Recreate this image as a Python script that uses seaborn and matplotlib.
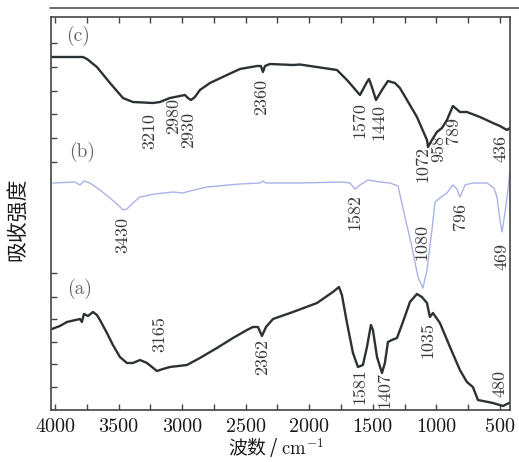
import numpy as np
import pandas as pd
import seaborn as sns
import matplotlib.pyplot as plt
from matplotlib.lines import Line2D

# ---------------- data ----------------
wn_c = [4031, 3780, 3748, 3670, 3567, 3465, 3387, 3229, 3174, 3096, 3017, 2978, 2954, 2930,
        2899, 2860, 2781, 2647, 2545, 2411, 2380, 2364, 2348, 2309, 2128, 2073, 1782, 1703,
        1601, 1546, 1530, 1507, 1475, 1428, 1381, 1326, 1287, 1231, 1153, 1074, 1066, 1035,
        996, 956, 917, 870, 815, 760, 657, 555, 500, 445, 421]
ab_c = [353, 353, 351, 343, 327, 312, 308, 307, 308, 312, 314, 315, 312, 310,
        313, 320, 327, 335, 341, 344, 344, 338, 344, 346, 345, 345.5, 340, 330,
        315, 328, 331, 323, 310, 320, 329, 327, 322, 310, 293, 270, 263, 270,
        278, 282, 290, 304, 298, 298, 293, 287, 284, 280, 282]

wn_b = [4016, 3843, 3803, 3772, 3725, 3646, 3567, 3504, 3465, 3434, 3387, 3331, 3214, 3072,
        2993, 2938, 2805, 2545, 2388, 2364, 2340, 2073, 1735, 1680, 1640, 1601, 1538, 1444,
        1365, 1302, 1247, 1192, 1145, 1106, 1074, 1035, 1011, 972, 917, 870, 838, 815, 791,
        775, 713, 602, 547, 523, 500, 484, 461, 437, 421]
ab_b = [227, 228, 225, 229, 227, 220, 212, 205, 200, 201, 207, 213, 216, 218,
        217, 219, 223, 226, 227, 229, 227, 227, 228, 227, 221, 225, 230, 228,
        227, 224, 193, 163, 133, 122, 140, 180, 208, 212, 217, 225, 221, 213, 220,
        225, 227, 227, 222, 213, 190, 178, 197, 220, 240]

wn_a = [4024, 3961, 3906, 3803, 3788, 3772, 3740, 3701, 3670, 3646, 3591, 3544, 3489, 3434,
        3387, 3331, 3276, 3198, 3151, 3096, 2962, 2860, 2726, 2600, 2490, 2443, 2403, 2372,
        2340, 2285, 2128, 1939, 1814, 1766, 1743, 1703, 1656, 1617, 1578, 1546, 1515, 1499,
        1467, 1428, 1405, 1381, 1350, 1310, 1263, 1208, 1153, 1114, 1074, 1051, 1027, 972,
        893, 815, 760, 713, 673, 555, 476, 429]
ab_a = [81, 84, 88, 91, 88, 96, 94, 98, 95, 90, 77, 65, 53, 47,
        47, 50, 47, 39, 41, 43, 45, 52, 62, 72, 80, 83, 83, 74,
        83, 91, 98, 107, 118, 123, 115, 87, 57, 43, 45, 63, 85, 80,
        53, 37, 47, 68, 70, 72, 88, 108, 116, 113, 107, 93, 97, 87,
        63, 40, 28, 23, 10, 7, 4, 7]

# peak labels: (wavenumber, height, text)
pk_c_wn = [3253, 3066, 2950, 2372, 1601, 1452, 1106, 982, 866, 492]
pk_c_y = [279, 294, 280, 313, 290, 288, 246, 262, 279, 262]
pk_c_tx = ["3210", "2980", "2930", "2360", "1570", "1440", "1072", "958", "789", "436"]

pk_b_wn = [3465, 1640, 1114, 815, 484]
pk_b_y = [175, 198, 168, 194, 153]
pk_b_tx = ["3430", "1582", "1080", "796", "469"]

pk_a_wn = [3174, 2364, 1601, 1405, 1066, 500]
pk_a_y = [76, 53, 24, 20, 70, 27]
pk_a_tx = ["3165", "2362", "1581", "1407", "1035", "480"]

panel_wn = [3819, 3788, 3803]
panel_y = [374, 258, 121]
panel_tx = ["(c)", "(b)", "(a)"]

xticks = [4000, 3500, 3000, 2500, 2000, 1500, 1000, 500]
xminor = [3750, 3250, 2750, 2250, 1750, 1250, 750]
yticks_left = [367, 343, 319, 296, 272, 248, 137, 113, 91, 68, 46, 23]

# ---------------- drawing ----------------
sns.set_theme(style="ticks")
plt.rcParams["font.family"] = ["cmr10", "DejaVu Sans"]
plt.rcParams["mathtext.fontset"] = "cm"
plt.rcParams["axes.unicode_minus"] = False
plt.rcParams["axes.formatter.use_mathtext"] = True

fig = plt.figure(figsize=(5.19, 4.62), dpi=100)
ax = fig.add_axes([51 / 519, 1 - 410 / 462, (510 - 51) / 519, (410 - 17) / 462])

df_c = pd.DataFrame({"wn": wn_c, "ab": ab_c})
df_b = pd.DataFrame({"wn": wn_b, "ab": ab_b})
df_a = pd.DataFrame({"wn": wn_a, "ab": ab_a})

dark = "#2c3134"
sns.lineplot(data=df_c, x="wn", y="ab", ax=ax, sort=False, estimator=None, color=dark, lw=1.7)
sns.lineplot(data=df_b, x="wn", y="ab", ax=ax, sort=False, estimator=None, color="#aab3e8", lw=1.0)
sns.lineplot(data=df_a, x="wn", y="ab", ax=ax, sort=False, estimator=None, color=dark, lw=1.7)

txt_col = "#3a3a3a"
for xs, ys, ts in [(pk_c_wn, pk_c_y, pk_c_tx), (pk_b_wn, pk_b_y, pk_b_tx), (pk_a_wn, pk_a_y, pk_a_tx)]:
    for x, y, t in zip(xs, ys, ts):
        ax.text(x, y, t, rotation=90, ha="center", va="center", fontsize=13, color=txt_col)
for x, y, t in zip(panel_wn, panel_y, panel_tx):
    ax.text(x, y, t, ha="center", va="center", fontsize=14, color="#666666")

ax.set_xlim(4031, 421)
ax.set_ylim(0, 393)
ax.set_xticks(xticks)
ax.set_xticklabels([str(v) for v in xticks], fontsize=14.5, color="#1a1a1a")
ax.set_xticks(xminor, minor=True)
ax.set_yticks(yticks_left)
ax.set_yticklabels([])
ax.tick_params(axis="x", which="both", direction="in", top=True, bottom=True, length=4, width=1, color="#444", pad=6)
ax.tick_params(axis="y", which="both", direction="in", left=True, right=False, length=4, width=1, color="#444")
ax.set_xlabel("")
ax.set_ylabel("")
for s in ax.spines.values():
    s.set_visible(True)
    s.set_color("#444444")
    s.set_linewidth(1.2)

fig.text(276 / 519, 1 - 448 / 462, "波数 / $\\mathrm{cm}^{-1}$", ha="center", va="center",
         fontsize=13.5, family=["Noto Sans CJK SC", "DejaVu Sans"], color="#1a1a1a")
fig.text(17 / 519, 1 - 219 / 462, "吸收强度", rotation=90, ha="center", va="center",
         fontsize=15, family=["Noto Sans CJK SC", "DejaVu Sans"], color="#1a1a1a")
fig.add_artist(Line2D([50 / 519, 1.0], [1 - 8 / 462, 1 - 8 / 462], color="#555555", lw=1.2))

fig.savefig("out.png", dpi=100)
